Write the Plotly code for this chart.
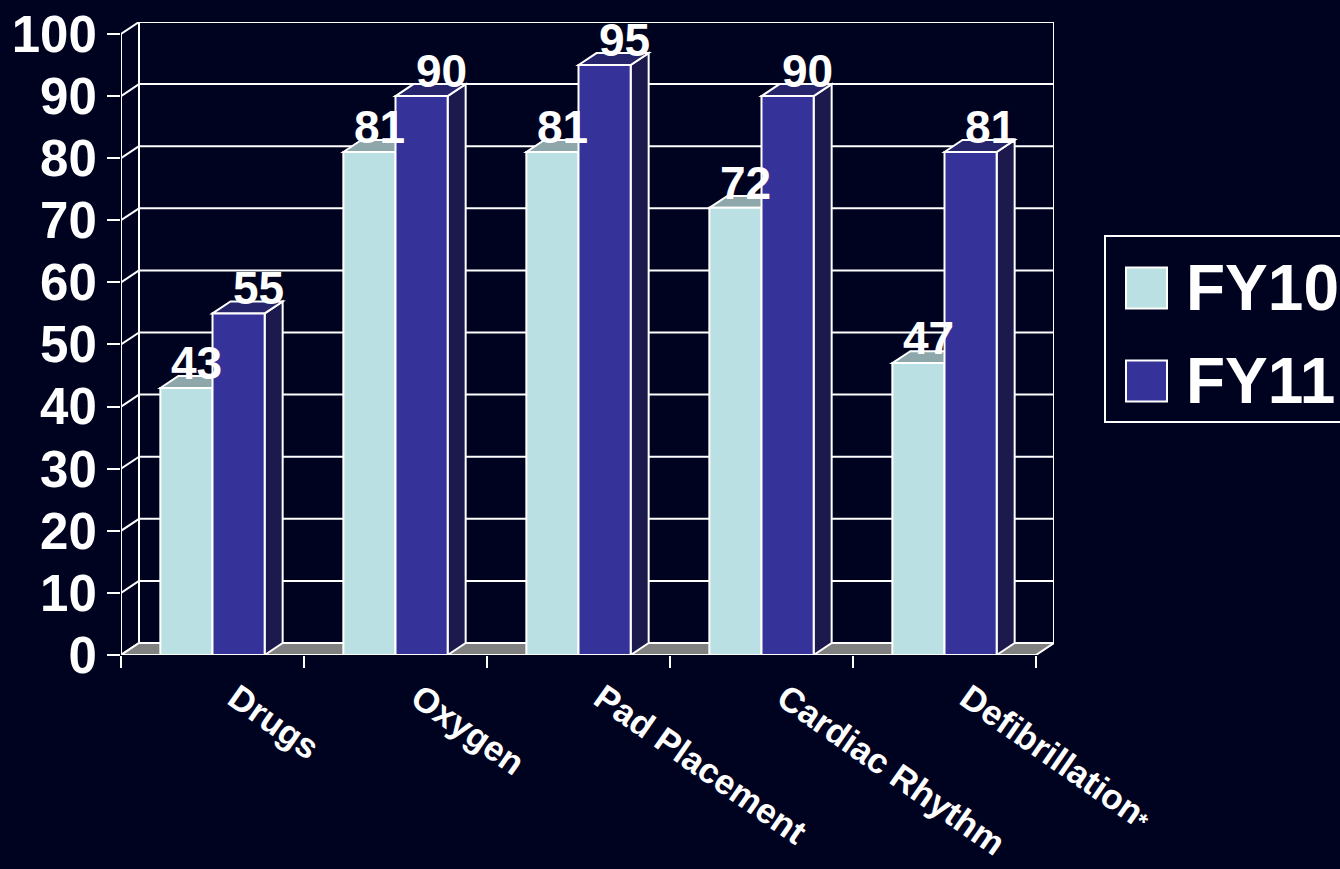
import plotly.graph_objects as go

# ---------------- data ----------------
categories = ["Drugs", "Oxygen", "Pad Placement", "Cardiac Rhythm", "Defibrillation*"]
series_names = ["FY10", "FY11"]
fy10_values = [43, 81, 81, 72, 47]
fy11_values = [55, 90, 95, 90, 81]
y_tick_values = [0, 10, 20, 30, 40, 50, 60, 70, 80, 90, 100]

# ---------------- styling ----------------
BG = "#000320"
FRONT = {"FY10": "#BBE0E3", "FY11": "#353399"}
TOP = {"FY10": "#8EA7AA", "FY11": "#27266D"}
SIDE = {"FY10": "#6E8A8C", "FY11": "#1C1A4C"}
FLOOR = "#808080"
LINE = "white"
FONT = "Liberation Sans, Arial, sans-serif"

W, H = 1340, 869
PL, PR, PT, PB = 121, 1054, 22, 655       # plot area in pixels
n = len(categories)
X_MIN = -0.5
px_per_x = 183.0
DX = 18.0 / px_per_x                       # depth in x units
X_MAX = n - 0.5 + DX
px_per_y = 6.22
DY = 12.0 / px_per_y                       # depth in y units
Y_MAX = 100 + DY
BW = 0.285                                 # bar width in x units


def xp(px):
    return (px - PL) / (PR - PL)


def yp(py):
    return (PB - py) / (PB - PT)


def poly(pts):
    return "M " + " L ".join(f"{x},{y}" for x, y in pts) + " Z"


shapes = []
# back wall gridlines + left wall diagonals
for t in y_tick_values:
    shapes.append(dict(type="line", xref="x", yref="y", layer="below",
                       x0=X_MIN + DX, y0=t + DY, x1=X_MAX, y1=t + DY,
                       line=dict(color=LINE, width=2)))
    shapes.append(dict(type="line", xref="x", yref="y", layer="below",
                       x0=X_MIN, y0=t, x1=X_MIN + DX, y1=t + DY,
                       line=dict(color=LINE, width=2)))
# wall verticals
for xv in (X_MIN + DX, X_MAX):
    shapes.append(dict(type="line", xref="x", yref="y", layer="below",
                       x0=xv, y0=DY, x1=xv, y1=100 + DY,
                       line=dict(color=LINE, width=2)))
# front axis vertical
shapes.append(dict(type="line", xref="x", yref="y", layer="below",
                   x0=X_MIN, y0=0, x1=X_MIN, y1=100,
                   line=dict(color=LINE, width=2)))
# floor
shapes.append(dict(type="path", xref="x", yref="y", layer="below",
                   path=poly([(X_MIN, 0), (n - 0.5, 0), (X_MAX, DY), (X_MIN + DX, DY)]),
                   fillcolor=FLOOR, line=dict(color=LINE, width=2)))

# bar side and top faces
series = [("FY10", fy10_values, -BW), ("FY11", fy11_values, 0.0)]
for i in range(n):
    for name, vals, off in series:
        v = vals[i]
        x0 = i + off
        x1 = x0 + BW
        shapes.append(dict(type="path", xref="x", yref="y", layer="below",
                           path=poly([(x1, 0), (x1 + DX, DY), (x1 + DX, v + DY), (x1, v)]),
                           fillcolor=SIDE[name], line=dict(color=LINE, width=2)))
        shapes.append(dict(type="path", xref="x", yref="y", layer="below",
                           path=poly([(x0, v), (x0 + DX, v + DY), (x1 + DX, v + DY), (x1, v)]),
                           fillcolor=TOP[name], line=dict(color=LINE, width=2)))

fig = go.Figure()
for name, vals, off in series:
    fig.add_trace(go.Bar(
        x=list(range(n)), y=vals, name=name, offset=off, width=BW,
        marker=dict(color=FRONT[name], line=dict(color=LINE, width=2)),
        showlegend=False, hoverinfo="x+y"))

annotations = []
label_shift = {"FY10": 10, "FY11": 20}
for name, vals, off in series:
    for i, v in enumerate(vals):
        annotations.append(dict(
            x=i + off + BW / 2, y=v, xref="x", yref="y", text=str(v),
            showarrow=False, xanchor="center", yanchor="bottom",
            xshift=label_shift[name], yshift=-3,
            font=dict(family=FONT, size=46, color="white", weight="bold")))

# manual legend
shapes.append(dict(type="rect", xref="paper", yref="paper",
                   x0=xp(1105), x1=xp(1360), y0=yp(422), y1=yp(236),
                   line=dict(color=LINE, width=2), fillcolor=BG, layer="above"))
legend_rows = [(series_names[0], 288), (series_names[1], 381)]
for name, cy in legend_rows:
    shapes.append(dict(type="rect", xref="paper", yref="paper",
                       x0=xp(1126), x1=xp(1167), y0=yp(cy + 20.5), y1=yp(cy - 20.5),
                       line=dict(color=LINE, width=2), fillcolor=FRONT[name], layer="above"))
    annotations.append(dict(x=xp(1184), y=yp(cy), xref="paper", yref="paper",
                            text=name, showarrow=False, xanchor="left", yanchor="middle",
                            font=dict(family=FONT, size=64, color="white", weight="bold")))

tick_text = [c.replace("*", "<span style='font-size:24px'>*</span>") for c in categories]

fig.update_layout(
    width=W, height=H,
    margin=dict(l=PL, r=W - PR, t=PT, b=H - PB, pad=0, autoexpand=False),
    paper_bgcolor=BG, plot_bgcolor=BG,
    barmode="overlay",
    showlegend=False,
    shapes=shapes,
    annotations=annotations,
    xaxis=dict(
        range=[X_MIN, X_MAX], tickmode="array", tickvals=list(range(n)), ticktext=tick_text,
        tickangle=35, ticks="", showgrid=False, zeroline=False, showline=False,
        automargin=False,
        ticklabelstandoff=15, ticklabelshift=23,
        tickfont=dict(family=FONT, size=35, color="white", weight="bold"),
        minor=dict(tickmode="array", tickvals=[k - 0.5 for k in range(n + 1)],
                   ticks="outside", ticklen=12, tickwidth=2, tickcolor=LINE, showgrid=False),
    ),
    yaxis=dict(
        range=[0, Y_MAX], tickmode="array", tickvals=y_tick_values,
        ticks="outside", ticklen=13, tickwidth=2, tickcolor=LINE,
        showgrid=False, zeroline=False, showline=False, automargin=False,
        tickfont=dict(family=FONT, size=51, color="white", weight="bold"),
    ),
)

fig.write_html("out.html")
